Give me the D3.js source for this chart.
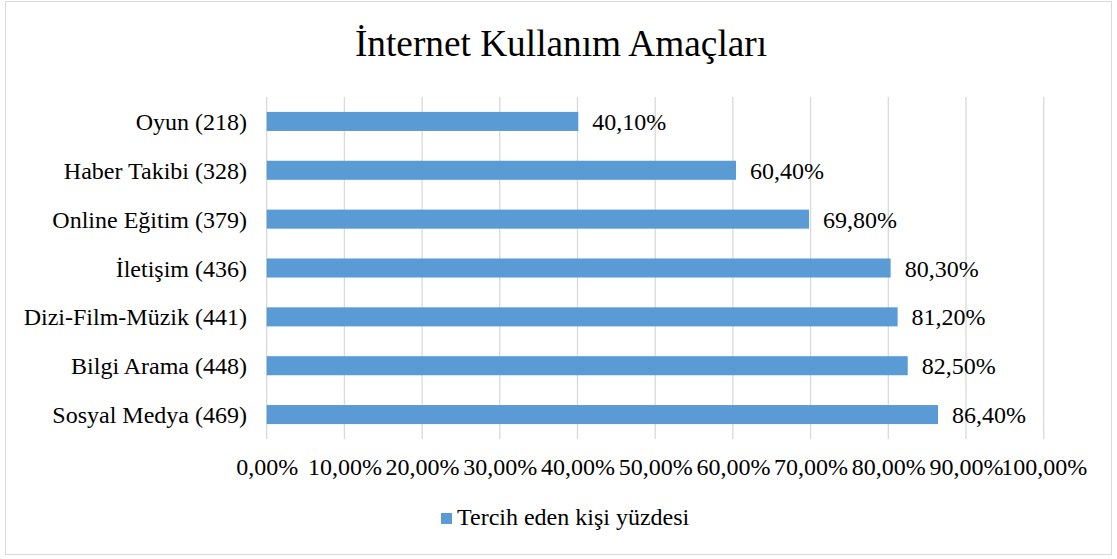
<!DOCTYPE html>
<html>
<head>
<meta charset="utf-8">
<script src="https://cdn.jsdelivr.net/npm/d3@7"></script>
<style>
  html, body { margin: 0; padding: 0; background: #fff; }
  svg { display: block; }
  text { font-family: "Liberation Serif", "Times New Roman", serif; fill: #000; }
</style>
</head>
<body>
<svg id="chart" width="1117" height="559"></svg>
<script>
const chartTitle = "İnternet Kullanım Amaçları";
const categories = ["Oyun (218)", "Haber Takibi (328)", "Online Eğitim (379)", "İletişim (436)", "Dizi-Film-Müzik (441)", "Bilgi Arama (448)", "Sosyal Medya (469)"];
const values = [0.401, 0.604, 0.698, 0.803, 0.812, 0.825, 0.864];
const xTicks = [0, 0.1, 0.2, 0.3, 0.4, 0.5, 0.6, 0.7, 0.8, 0.9, 1.0];
const seriesName = "Tercih eden kişi yüzdesi";

const locale = d3.formatLocale({decimal: ",", thousands: ".", grouping: [3], currency: ["", "₺"]});
const pct = locale.format(".2%");

const svg = d3.select("#chart");
const W = 1117, H = 559;
const barColor = "#5B9BD5";
const gridColor = "#d9d9d9";

// outer border
svg.append("rect").attr("x", 5.5).attr("y", 1.5).attr("width", 1106).attr("height", 553)
  .attr("fill", "#fff").attr("stroke", gridColor).attr("stroke-width", 1);

// title
svg.append("text").attr("x", 561).attr("y", 56).attr("text-anchor", "middle")
  .style("font-size", "37.3px").text(chartTitle);

const plot = {left: 266.7, right: 1043.7, top: 97, bottom: 439};

const x = d3.scaleLinear().domain([0, 1]).range([plot.left, plot.right]);
const y = d3.scaleBand().domain(categories).range([plot.top, plot.bottom])
  .paddingInner(0.61).paddingOuter(0.305);

// gridlines
svg.append("g").selectAll("line").data(xTicks).join("line")
  .attr("x1", d => x(d)).attr("x2", d => x(d))
  .attr("y1", plot.top).attr("y2", plot.bottom)
  .attr("stroke", gridColor).attr("stroke-width", 1.3);

// bars
svg.append("g").selectAll("rect").data(categories).join("rect")
  .attr("x", x(0)).attr("y", d => y(d))
  .attr("width", (d, i) => x(values[i]) - x(0))
  .attr("height", y.bandwidth())
  .attr("fill", barColor);

// data labels
svg.append("g").selectAll("text").data(categories).join("text")
  .attr("x", (d, i) => x(values[i]) + 14)
  .attr("y", d => y(d) + y.bandwidth() / 2 + 8.5)
  .style("font-size", "24px")
  .text((d, i) => pct(values[i]));

// y axis labels
const yAxis = d3.axisLeft(y).tickSize(0).tickPadding(0);
const gy = svg.append("g").attr("transform", `translate(${247},0)`).call(yAxis);
gy.select(".domain").remove();
gy.selectAll("text").style("font-size", "24px").attr("font-family", null)
  .attr("dy", null).attr("dominant-baseline", null)
  .attr("y", 8.5).attr("x", 0).attr("text-anchor", "end");

// x axis labels
const xAxis = d3.axisBottom(x).tickValues(xTicks).tickSize(0).tickPadding(0).tickFormat(pct);
const gx = svg.append("g").attr("transform", `translate(0,${475})`).call(xAxis);
gx.select(".domain").remove();
gx.selectAll("text").style("font-size", "24px").attr("font-family", null)
  .attr("dy", null).attr("y", 0);

// legend
const lg = svg.append("g");
lg.append("rect").attr("x", 441).attr("y", 513).attr("width", 11).attr("height", 11).attr("fill", barColor);
lg.append("text").attr("x", 457).attr("y", 525).style("font-size", "24px").text(seriesName);
</script>
</body>
</html>
